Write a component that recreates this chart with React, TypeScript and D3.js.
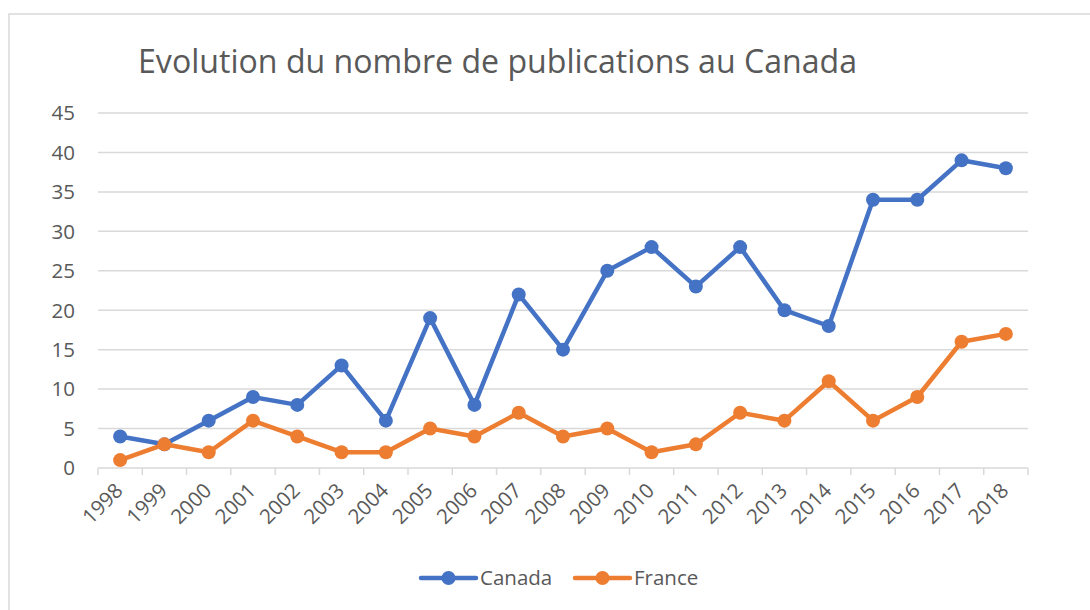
import React from "react";
import * as d3 from "d3";

const years = ["1998","1999","2000","2001","2002","2003","2004","2005","2006","2007","2008","2009","2010","2011","2012","2013","2014","2015","2016","2017","2018"];
const canada = [4,3,6,9,8,13,6,19,8,22,15,25,28,23,28,20,18,34,34,39,38];
const france = [1,3,2,6,4,2,2,5,4,7,4,5,2,3,7,6,11,6,9,16,17];
const yTicks = [0,5,10,15,20,25,30,35,40,45];
const seriesNames = ["Canada","France"];
const colors = ["#4472C4","#ED7D31"];

const W = 1090, H = 610;
const FONT = "'Open Sans', 'Noto Sans', sans-serif";
const TXT = "#595959";
const GRID = "#d9d9d9";

export default function App() {
  const x = d3.scaleBand<string>().domain(years).range([98, 1028]);
  const y = d3.scaleLinear().domain([0, 45]).range([468, 113]);
  const line = d3.line<number>()
    .x((_, i) => (x(years[i]) as number) + x.bandwidth() / 2)
    .y((d) => y(d));
  const series = [canada, france];
  const legendX = [421, 575];

  return (
    <svg width={W} height={H} style={{ position: "absolute", left: 0, top: 0 }}>
      <rect x={0} y={0} width={W} height={H} fill="#fff" />
      <rect x={9} y={14} width={W + 20} height={H + 20} fill="none" stroke={GRID} strokeWidth={1.5} />
      <text x={138} y={73} fontFamily={FONT} fontSize={33} fill={TXT} textLength={719} lengthAdjust="spacingAndGlyphs">
        Evolution du nombre de publications au Canada
      </text>
      {yTicks.map((t) => (
        <g key={t}>
          {t > 0 && (
            <line x1={98} x2={1028} y1={y(t)} y2={y(t)} stroke={GRID} strokeWidth={1.5} />
          )}
          <text x={75} y={y(t)} dy="0.36em" textAnchor="end" fontFamily={FONT} fontSize={20.5} fill={TXT}>
            {t}
          </text>
        </g>
      ))}
      <line x1={98} x2={1028} y1={y(0)} y2={y(0)} stroke={GRID} strokeWidth={1.5} />
      {years.concat(["end"]).map((yr, i) => {
        const px = 98 + i * x.bandwidth();
        return <line key={yr} x1={px} x2={px} y1={y(0)} y2={y(0) + 7} stroke={GRID} strokeWidth={1.5} />;
      })}
      {years.map((yr) => {
        const cx = (x(yr) as number) + x.bandwidth() / 2 + 4;
        const cy = 492;
        return (
          <text key={yr} x={cx} y={cy} textAnchor="end" fontFamily={FONT} fontSize={20.5} fill={TXT}
            transform={`rotate(-45 ${cx} ${cy})`}>
            {yr}
          </text>
        );
      })}
      {series.map((s, si) => (
        <g key={si}>
          <path d={line(s) as string} fill="none" stroke={colors[si]} strokeWidth={4.5} strokeLinejoin="round" strokeLinecap="round" />
          {s.map((v, i) => (
            <circle key={i} cx={(x(years[i]) as number) + x.bandwidth() / 2} cy={y(v)} r={7} fill={colors[si]} />
          ))}
        </g>
      ))}
      {seriesNames.map((n, i) => (
        <g key={n}>
          <line x1={legendX[i]} x2={legendX[i] + 55} y1={578} y2={578} stroke={colors[i]} strokeWidth={4.5} strokeLinecap="round" />
          <circle cx={legendX[i] + 27.5} cy={578} r={7} fill={colors[i]} />
          <text x={legendX[i] + 59} y={578} dy="0.36em" fontFamily={FONT} fontSize={20.5} fill={TXT}>
            {n}
          </text>
        </g>
      ))}
    </svg>
  );
}
